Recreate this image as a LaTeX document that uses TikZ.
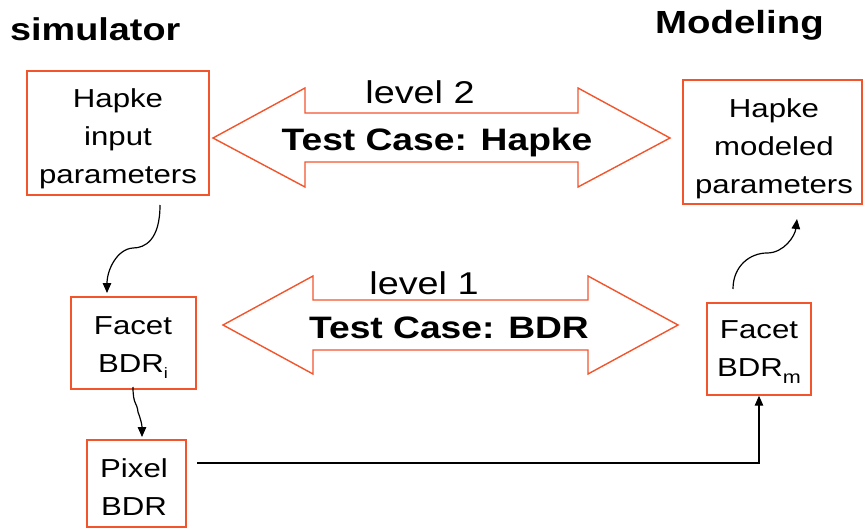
\documentclass[tikz,border=0pt]{standalone}
\usepackage{fontspec}
\setmainfont{Liberation Sans}[FakeStretch=1.2]
\usetikzlibrary{arrows.meta}
\definecolor{boxred}{HTML}{F2552C}
\begin{document}
\begin{tikzpicture}[x=1pt,y=-1pt,
  bx/.style={draw=boxred, line width=1.4pt, inner sep=0pt},
  txt/.style={align=center, inner sep=0pt, anchor=north, font=\fontsize{26}{38}\selectfont},
  ttl/.style={inner sep=0pt, anchor=base west, font=\bfseries\fontsize{31.5}{36}\selectfont},
  lvl/.style={inner sep=0pt, anchor=base, font=\fontsize{31.5}{36}\selectfont},
  tcase/.style={inner sep=0pt, anchor=base, font=\bfseries\fontsize{31}{36}\selectfont},
  dbl/.style={draw=boxred, line width=1.4pt, line join=miter},
  conn/.style={draw=black, line width=1.2pt, -{Triangle[width=8.5pt,length=10pt]}}]
\useasboundingbox (0,0) rectangle (863,530);

% titles
\node[ttl] (tsim) at (10,41) {simulator};
\node[ttl, font=\bfseries\fontsize{32}{36}\selectfont] (tmod) at (655,34) {Modeling};

% boxes
\node[bx, minimum width=182pt, minimum height=124pt] (hin) at (118,133) {};
\node[bx, minimum width=179pt, minimum height=124pt] (hmod) at (772.5,142) {};
\node[bx, minimum width=125pt, minimum height=92pt] (fbi) at (133.5,343) {};
\node[bx, minimum width=99pt, minimum height=87pt] (pix) at (136.5,483.5) {};
\node[bx, minimum width=104pt, minimum height=92pt] (fbm) at (759,349) {};

% box texts
\node[txt] (hintxt) at (118,88) {Hapke\\input\\parameters};
\node[txt] (hmodtxt) at (774,98) {Hapke\\modeled\\parameters};
\node[txt] (fbitxt) at (133,316) {Facet\\BDR\raisebox{-6pt}{\fontsize{15}{15}\selectfont i}};
\node[txt] (pixtxt) at (134,458) {Pixel\\BDR};
\node[txt] (fbmtxt) at (759,320) {Facet\\BDR\raisebox{-7pt}{\fontsize{18}{18}\selectfont m}};

% double arrows
\draw[dbl] (213,138) -- (305,88) -- (305,113) -- (578,113) -- (578,88) -- (670,138)
  -- (578,187) -- (578,162) -- (305,162) -- (305,187) -- cycle;
\draw[dbl] (223,325) -- (313,276) -- (313,300) -- (588,300) -- (588,276) -- (678,325)
  -- (588,374) -- (588,350) -- (313,350) -- (313,374) -- cycle;
\node[lvl] (lv2) at (420,103) {level 2};
\node[tcase] (tc2) at (437,150) {Test Case: Hapke};
\node[lvl] (lv1) at (424,294) {level 1};
\node[tcase] (tc1) at (449,338) {Test Case: BDR};

% connectors
\coordinate (c1s) at (160,205);
\coordinate (c1m) at (133,248);
\coordinate (c1e) at (107,293);
\draw[conn] (c1s) .. controls (160,240) and (145,248) .. (c1m)
  .. controls (117,249) and (107,270) .. (c1e);

\coordinate (c2s) at (133,387);
\coordinate (c2m) at (138,412);
\coordinate (c2e) at (142,437);
\draw[conn] (c2s) .. controls (133,405) and (137,402) .. (c2m)
  .. controls (141,420) and (142,425) .. (c2e);

\coordinate (c3s) at (197,463);
\draw[conn] (c3s) -| (fbm.south);

\coordinate (c4s) at (733,289);
\coordinate (c4m) at (767,253);
\coordinate (c4e) at (797,219);
\draw[conn] (c4s) .. controls (733,266) and (750,253) .. (c4m)
  .. controls (784,253) and (795,236) .. (c4e);
\end{tikzpicture}
\end{document}
